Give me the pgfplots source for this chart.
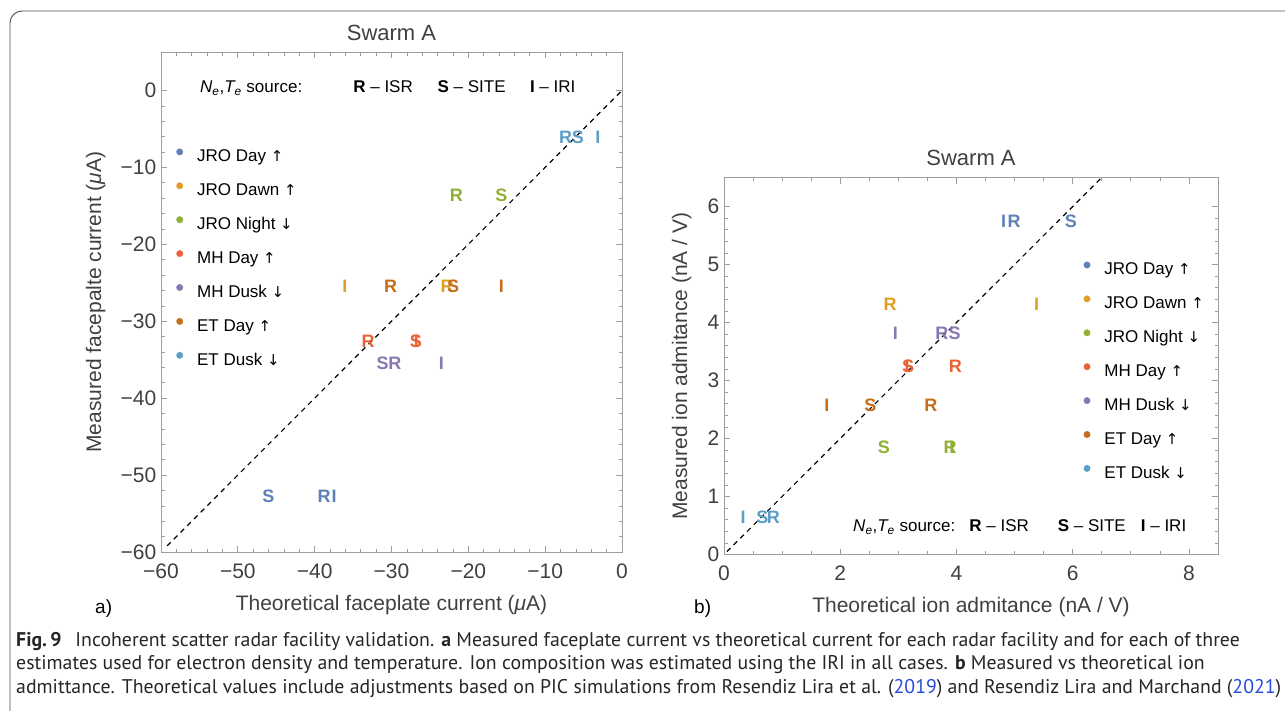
\documentclass[border=0pt]{standalone}
\usepackage{fontspec}
\setmainfont{Liberation Sans}
\newfontfamily\capfont{PT Sans}
\newfontfamily\arrowfont{DejaVu Sans}
\usepackage{graphicx}
\usepackage{pgfplots}
\pgfplotsset{compat=1.18}

\definecolor{cJD}{rgb}{0.368417,0.506779,0.709798}
\definecolor{cJW}{rgb}{0.880722,0.611041,0.142051}
\definecolor{cJN}{rgb}{0.560181,0.691569,0.194885}
\definecolor{cMD}{rgb}{0.922526,0.385626,0.209179}
\definecolor{cMK}{rgb}{0.528488,0.470624,0.701351}
\definecolor{cED}{rgb}{0.772079,0.431554,0.102387}
\definecolor{cEK}{rgb}{0.363898,0.618501,0.782349}
\definecolor{framegray}{gray}{0.62}
\definecolor{ticklab}{gray}{0.25}
\definecolor{linkblue}{rgb}{0.15,0.3,0.85}

\pgfplotsset{
  panel/.style={
    anchor=south west, scale only axis, clip=false,
    tick align=inside, major tick length=6pt, minor tick length=3.5pt,
    axis line style={framegray, line width=0.8pt},
    every tick/.style={framegray, line width=0.7pt},
    tick label style={font=\fontsize{21}{21}\selectfont, text=ticklab, inner sep=0pt},
    /pgf/number format/assume math mode=true,
    xticklabel style={yshift=-11.5pt},
    yticklabel style={xshift=-4.5pt},
    title style={anchor=base, font=\fontsize{22}{22}\selectfont, text=ticklab, inner sep=0pt},
    xlabel style={anchor=base, font=\fontsize{21}{21}\selectfont, text=ticklab, inner sep=0pt},
    ylabel style={anchor=base, font=\fontsize{21}{21}\selectfont, text=ticklab, inner sep=0pt},
    legend cell align=left,
    legend image code/.code={\fill[##1] (0pt,6pt) circle (3.2pt);},
  },
  legstyle/.style={draw=none, fill=none, inner sep=0pt, outer sep=0pt,
    font=\fontsize{17}{17}\selectfont, row sep=16.5pt, column sep=14pt,
    nodes={inner sep=0pt, text height=12pt, text depth=4pt}},
  letters/.style={only marks, mark=none, forget plot, nodes near coords,
    point meta=explicit symbolic,
    nodes near coords style={anchor=center, text=#1,
      font=\fontsize{18}{18}\selectfont\bfseries, inner sep=0pt}},
  diag/.style={black, line width=1.15pt, dash pattern=on 5pt off 4.5pt, forget plot},
}

\newcommand\up{{\arrowfont\fontsize{15}{15}\selectfont ↑}}
\newcommand\dn{{\arrowfont\fontsize{15}{15}\selectfont ↓}}
\newlength\capw
\newcommand\capsize{\fontsize{17}{17}\selectfont}
\newcommand\lineA{{\bfseries Fig.\,9}\hspace{0.7em}Incoherent scatter radar facility validation. {\bfseries a} Measured faceplate current vs theoretical current for each radar facility and for each of three}
\newcommand\lineB{estimates used for electron density and temperature. Ion composition was estimated using the IRI in all cases. {\bfseries b} Measured vs theoretical ion}
\newcommand\lineC{admittance. Theoretical values include adjustments based on PIC simulations from Resendiz Lira et al. (\textcolor{linkblue}{2019}) and Resendiz Lira and Marchand (\textcolor{linkblue}{2021})}
\newcommand\src{{\itshape N\textsubscript{e}},{\itshape T\textsubscript{e}} source:}

\begin{document}
\settowidth\capw{\capfont\capsize\lineC}%
\pgfmathsetmacro\capscale{1265/\capw}%
\begin{tikzpicture}
\useasboundingbox (0pt,0pt) rectangle (1285pt,-710pt);
\draw[black!70, line width=0.9pt, rounded corners=12pt] (1300pt,-11pt) -- (10pt,-11pt) -- (10pt,-730pt);

% ---------------- panel a ----------------
\begin{axis}[panel,
  at={(161pt,-552pt)}, width=461pt, height=500pt,
  xmin=-60, xmax=0, ymin=-60, ymax=5,
  xtick={-60,-50,-40,-30,-20,-10,0},
  xticklabels={−60,−50,−40,−30,−20,−10,0},
  ytick={-60,-50,-40,-30,-20,-10,0},
  yticklabels={−60,−50,−40,−30,−20,−10,0},
  minor x tick num=4, minor y tick num=4,
  title={Swarm A}, title style={at={(axis description cs:0.5,1.012)}},
  xlabel={Theoretical faceplate current ({\itshape μ}A)},
  xlabel style={at={(axis description cs:0.5,-0.116)}},
  ylabel={Measured facepalte current ({\itshape μ}A)},
  ylabel style={at={(axis description cs:-0.130,0.5)}},
  legend style={legstyle, at={(axis description cs:0.0332,0.807)}, anchor=north west},
]
\addlegendimage{cJD}\addlegendentry{JRO Day \up}
\addlegendimage{cJW}\addlegendentry{JRO Dawn \up}
\addlegendimage{cJN}\addlegendentry{JRO Night \dn}
\addlegendimage{cMD}\addlegendentry{MH Day \up}
\addlegendimage{cMK}\addlegendentry{MH Dusk \dn}
\addlegendimage{cED}\addlegendentry{ET Day \up}
\addlegendimage{cEK}\addlegendentry{ET Dusk \dn}

\addplot[letters=cJD] table[meta=l, row sep=\\] {x y l\\ -46.04 -52.70 S\\ -38.76 -52.70 R\\ -37.46 -52.70 I\\};
\addplot[letters=cJW] table[meta=l, row sep=\\] {x y l\\ -36.07 -25.40 I\\ -22.77 -25.40 R\\};
\addplot[letters=cJN] table[meta=l, row sep=\\] {x y l\\ -21.55 -13.59 R\\ -15.70 -13.59 S\\};
\addplot[letters=cMD] table[meta=l, row sep=\\] {x y l\\ -33.04 -32.61 R\\ -26.75 -32.61 I\\ -26.84 -32.61 S\\};
\addplot[letters=cMK] table[meta=l, row sep=\\] {x y l\\ -31.17 -35.43 S\\ -29.57 -35.43 R\\ -23.50 -35.43 I\\};
\addplot[letters=cED] table[meta=l, row sep=\\] {x y l\\ -30.13 -25.40 R\\ -21.99 -25.40 S\\ -15.70 -25.40 I\\};
\addplot[letters=cEK] table[meta=l, row sep=\\] {x y l\\ -7.33 -6.12 R\\ -5.73 -6.12 S\\ -3.13 -6.12 I\\};
\addplot[diag] coordinates {(-59.2,-59.2) (0,0)};

\node[anchor=base west, inner sep=0pt, font=\fontsize{17}{17}\selectfont] at (axis cs:-54.93,-0.27) {\src};
\node[anchor=base west, inner sep=0pt, font=\fontsize{17}{17}\selectfont] at (axis cs:-34.99,-0.27) {{\bfseries R} – ISR};
\node[anchor=base west, inner sep=0pt, font=\fontsize{17}{17}\selectfont] at (axis cs:-24.02,-0.27) {{\bfseries S} – SITE};
\node[anchor=base west, inner sep=0pt, font=\fontsize{17}{17}\selectfont] at (axis cs:-12.00,-0.27) {{\bfseries I} – IRI};
\end{axis}

% ---------------- panel b ----------------
\begin{axis}[panel,
  at={(724pt,-554.5pt)}, width=494pt, height=377pt,
  xmin=0, xmax=8.5, ymin=0, ymax=6.5,
  xtick={0,2,4,6,8}, ytick={0,1,2,3,4,5,6},
  xticklabels={0,2,4,6,8}, yticklabels={0,1,2,3,4,5,6},
  minor x tick num=3, minor y tick num=4,
  title={Swarm A}, title style={at={(axis description cs:0.5,1.0172)}},
  xlabel={Theoretical ion admitance (nA / V)},
  xlabel style={at={(axis description cs:0.5,-0.155)}},
  ylabel={Measured ion admitance (nA / V)},
  ylabel style={at={(axis description cs:-0.0749,0.5)}},
  legend style={legstyle, at={(axis description cs:0.728,0.777)}, anchor=north west},
]
\addlegendimage{cJD}\addlegendentry{JRO Day \up}
\addlegendimage{cJW}\addlegendentry{JRO Dawn \up}
\addlegendimage{cJN}\addlegendentry{JRO Night \dn}
\addlegendimage{cMD}\addlegendentry{MH Day \up}
\addlegendimage{cMK}\addlegendentry{MH Dusk \dn}
\addlegendimage{cED}\addlegendentry{ET Day \up}
\addlegendimage{cEK}\addlegendentry{ET Dusk \dn}

\addplot[letters=cJD] table[meta=l, row sep=\\] {x y l\\ 4.81 5.74 I\\ 4.99 5.74 R\\ 5.97 5.74 S\\};
\addplot[letters=cJW] table[meta=l, row sep=\\] {x y l\\ 2.86 4.32 R\\ 5.38 4.32 I\\};
\addplot[letters=cJN] table[meta=l, row sep=\\] {x y l\\ 2.75 1.84 S\\ 3.92 1.84 I\\ 3.89 1.84 R\\};
\addplot[letters=cMD] table[meta=l, row sep=\\] {x y l\\ 3.15 3.24 I\\ 3.17 3.24 S\\ 3.98 3.24 R\\};
\addplot[letters=cMK] table[meta=l, row sep=\\] {x y l\\ 2.95 3.81 I\\ 3.75 3.81 R\\ 3.97 3.81 S\\};
\addplot[letters=cED] table[meta=l, row sep=\\] {x y l\\ 1.77 2.58 I\\ 2.52 2.58 S\\ 3.56 2.58 R\\};
\addplot[letters=cEK] table[meta=l, row sep=\\] {x y l\\ 0.33 0.64 I\\ 0.66 0.64 S\\ 0.85 0.64 R\\};
\addplot[diag] coordinates {(0.05,0.05) (6.5,6.5)};

\node[anchor=base west, inner sep=0pt, font=\fontsize{17}{17}\selectfont] at (axis cs:2.22,0.395) {\src};
\node[anchor=base west, inner sep=0pt, font=\fontsize{17}{17}\selectfont] at (axis cs:4.22,0.395) {{\bfseries R} – ISR};
\node[anchor=base west, inner sep=0pt, font=\fontsize{17}{17}\selectfont] at (axis cs:5.74,0.395) {{\bfseries S} – SITE};
\node[anchor=base west, inner sep=0pt, font=\fontsize{17}{17}\selectfont] at (axis cs:7.17,0.395) {{\bfseries I} – IRI};
\end{axis}

% panel letters
\node[anchor=base west, inner sep=0pt, font=\fontsize{19}{19}\selectfont] at (95pt,-613pt) {a)};
\node[anchor=base west, inner sep=0pt, font=\fontsize{19}{19}\selectfont] at (694pt,-613pt) {b)};

% caption
\node[anchor=base west, inner sep=0pt, text=black!85] at (16pt,-646pt) {\scalebox{\capscale}{\capfont\capsize\lineA}};
\node[anchor=base west, inner sep=0pt, text=black!85] at (16pt,-669.5pt) {\scalebox{\capscale}{\capfont\capsize\lineB}};
\node[anchor=base west, inner sep=0pt, text=black!85] at (16pt,-693pt) {\scalebox{\capscale}{\capfont\capsize\lineC}};
\end{tikzpicture}
\end{document}
